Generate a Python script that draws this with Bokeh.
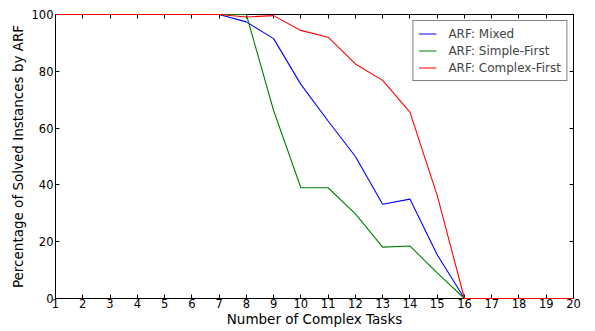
from bokeh.plotting import figure
from bokeh.models import LinearAxis, Range1d, FixedTicker, Legend, LegendItem
from bokeh.embed import file_html
from bokeh.resources import INLINE

tasks = list(range(1, 21))
mixed = [100, 100, 100, 100, 100, 100, 100, 97.4, 91.5, 75.4, 62.5, 50, 33.2, 35, 15.4, 0, 0, 0, 0, 0]
simple_first = [100, 100, 100, 100, 100, 100, 100, 100, 66.2, 39, 39, 29.8, 18.1, 18.5, 9, 0, 0, 0, 0, 0]
complex_first = [100, 100, 100, 100, 100, 100, 100, 99.1, 99.6, 94.4, 92, 82.6, 76.8, 65.6, 36.3, 0, 0, 0, 0, 0]
x_ticks = list(range(1, 21))
y_ticks = [0, 20, 40, 60, 80, 100]

FONT = "DejaVu Sans"

p = figure(width=595, height=331, output_backend="svg", toolbar_location=None,
           x_range=Range1d(1, 20), y_range=Range1d(0, 100),
           x_axis_label="Number of Complex Tasks",
           y_axis_label="Percentage of Solved Instances by ARF",
           min_border_left=55, min_border_right=22, min_border_top=14, min_border_bottom=33)

p.grid.visible = False
p.outline_line_color = "black"
p.outline_line_width = 1
p.outline_line_alpha = 1.0
p.background_fill_color = "white"
p.border_fill_color = "white"

def style_axis(ax, ticks, show_labels=True):
    ax.ticker = FixedTicker(ticks=ticks)
    ax.major_tick_in = 4
    ax.major_tick_out = 0
    ax.minor_tick_line_color = None
    ax.axis_line_color = "black"
    ax.major_tick_line_color = "black"
    ax.major_label_text_font = FONT
    ax.major_label_text_font_size = "11.5px"
    ax.major_label_text_color = "black" if show_labels else None
    ax.axis_label_text_font = FONT
    ax.axis_label_text_font_size = "13.5px"
    ax.axis_label_text_font_style = "normal"
    ax.axis_label_text_color = "black"
    ax.major_label_standoff = 2 if show_labels else 0

style_axis(p.xaxis[0], x_ticks)
style_axis(p.yaxis[0], y_ticks)
p.xaxis[0].major_label_standoff = 0
p.xaxis[0].axis_label_standoff = 0
p.yaxis[0].axis_label_standoff = 3

top = LinearAxis()
style_axis(top, x_ticks, show_labels=False)
right = LinearAxis()
style_axis(right, y_ticks, show_labels=False)
p.add_layout(top, "above")
p.add_layout(right, "right")

r1 = p.line(tasks, mixed, line_color="#0000ff", line_width=1.1, level="overlay")
r2 = p.line(tasks, simple_first, line_color="#008000", line_width=1.1, level="overlay")
r3 = p.line(tasks, complex_first, line_color="#ff0000", line_width=1.1, level="overlay")

legend = Legend(items=[LegendItem(label="ARF: Mixed", renderers=[r1]),
                       LegendItem(label="ARF: Simple-First", renderers=[r2]),
                       LegendItem(label="ARF: Complex-First", renderers=[r3])],
                location="top_right")
legend.border_line_color = "black"
legend.border_line_width = 1
legend.background_fill_alpha = 1.0
legend.label_text_font = FONT
legend.label_text_font_size = "12px"
legend.glyph_width = 18
legend.glyph_height = 15
legend.label_height = 15
legend.spacing = 2
legend.padding = 5
legend.label_standoff = 12
legend.margin = 6
p.add_layout(legend, "center")

open("out.html", "w").write(file_html(p, INLINE))
